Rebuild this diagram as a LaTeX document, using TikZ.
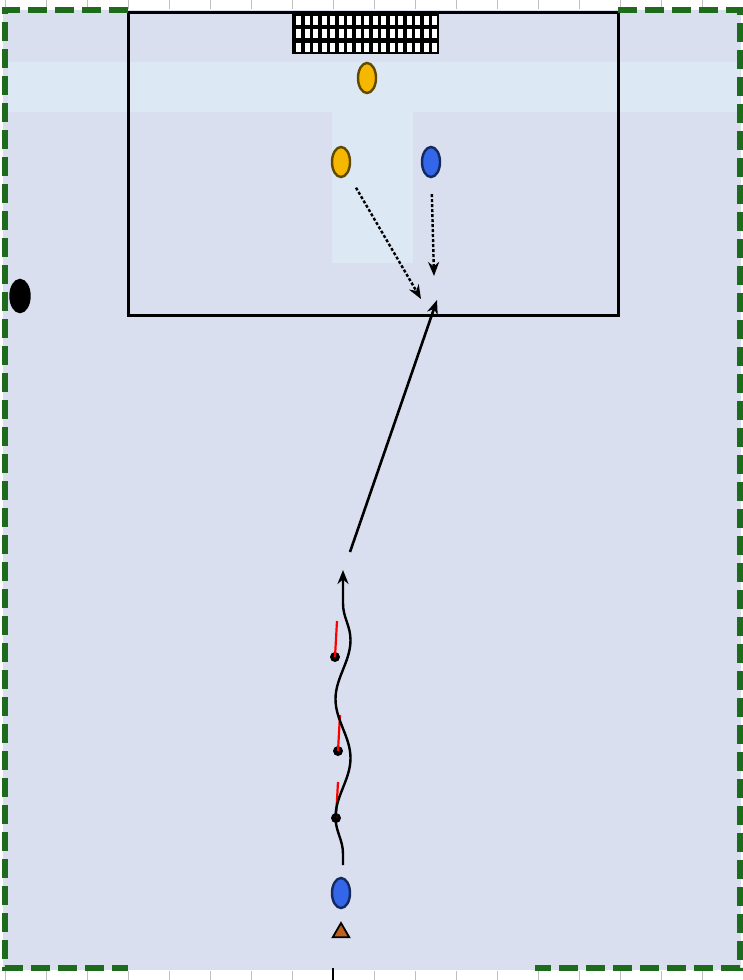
\documentclass[tikz,border=0pt]{standalone}
\usepackage{tikz}
\usetikzlibrary{positioning,arrows.meta,shapes.geometric,decorations.pathmorphing}
\definecolor{field}{HTML}{DADFF0}
\definecolor{band}{HTML}{DDE8F5}
\definecolor{linegreen}{HTML}{1E6B1E}
\definecolor{kityellow}{HTML}{F5B700}
\definecolor{kitblue}{HTML}{3366E8}
\definecolor{coneorange}{HTML}{C0601A}

\begin{document}
\begin{tikzpicture}[
    x=1pt, y=-1pt,
    player/.style={ellipse, draw=#1!40!black, fill=#1, line width=2.4pt, minimum width=18pt, minimum height=30pt, inner sep=0pt},
    pole/.style={circle, fill=black, minimum size=10pt, inner sep=0pt},
    flag/.style={red, line width=2.2pt},
    cone/.style={regular polygon, regular polygon sides=3, draw=black, fill=coneorange, line width=1.8pt, minimum size=19pt, inner sep=0pt},
    run/.style={-{Stealth[length=14pt, width=11pt]}, line width=2.4pt, dash pattern=on 3pt off 2pt},
    pass/.style={-{Stealth[length=14pt, width=11pt]}, line width=2.6pt},
    dribble/.style={-{Stealth[length=14pt, width=11pt]}, line width=2.4pt, decorate,
        decoration={snake, segment length=118pt, amplitude=7.5pt, pre length=11pt, post length=30pt}},
    boundary/.style={linegreen, line width=5.5pt, dash pattern=on 19pt off 8pt},
    ruler/.style={black!25, line width=0.8pt}
]
\useasboundingbox (0,0) rectangle (743,980);

% pitch
\fill[white] (0,0) rectangle (743,980);
\fill[field] (3,10) rectangle (741,970);
\fill[band] (8,62) rectangle (740,112);
\fill[band] (332,112) rectangle (413,263);

% ruler ticks
\foreach \k in {0,...,18} {
    \draw[ruler] (5+41*\k,0) -- (5+41*\k,9);
    \draw[ruler] (5+41*\k,971) -- (5+41*\k,980);
}
\draw[black, line width=1.8pt] (333,968) -- (333,980);

% penalty box and goal
\draw[black, line width=3pt] (128,12) rectangle (618,315);
\node[draw=black, fill=black, line width=1pt, minimum width=146pt, minimum height=41pt,
      inner sep=0pt, anchor=north west] (goal) at (292,12) {};
\foreach \i in {0,...,16}
    \foreach \j in {0,1,2}
        \fill[white] (296+\i*8.5,15.5+\j*13.5) rectangle ++(5,9);

% dashed boundary
\draw[boundary] (128,10) -- (5,10) -- (5,968) -- (128,968);
\draw[boundary] (618,10) -- (740,10) -- (740,968) -- (535,968);

% players
\node[player=kityellow] (keeper) at (367,78) {};
\node[player=kityellow] (defender) at (341,162) {};
\node[player=kitblue] (attacker) at (431,162) {};
\node[player=kitblue] (striker) at (341,893) {};
\node[cone, below=12pt of striker] (cone) {};
\node[player=black, minimum width=19pt, minimum height=32pt] (coach) at (20,296) {};

% poles
\foreach \px/\py [count=\i] in {335/657, 338/751, 336/818} {
    \node[pole] (pole\i) at (\px,\py) {};
    \draw[flag] (pole\i.center) -- ++(2,-36);
}

% movements
\coordinate (runA) at (421,299);
\coordinate (runB) at (434,276);
\coordinate (finish) at (437,300);
\coordinate (dribStart) at (343,865);
\coordinate (dribEnd) at (343,570);
\coordinate (shot) at (350,552);

\draw[run, shorten <=16pt] (defender) -- (runA);
\draw[run, shorten <=16pt] (attacker) -- (runB);
\draw[dribble] (dribStart) -- (dribEnd);
\draw[pass] (shot) -- (finish);

\end{tikzpicture}
\end{document}
